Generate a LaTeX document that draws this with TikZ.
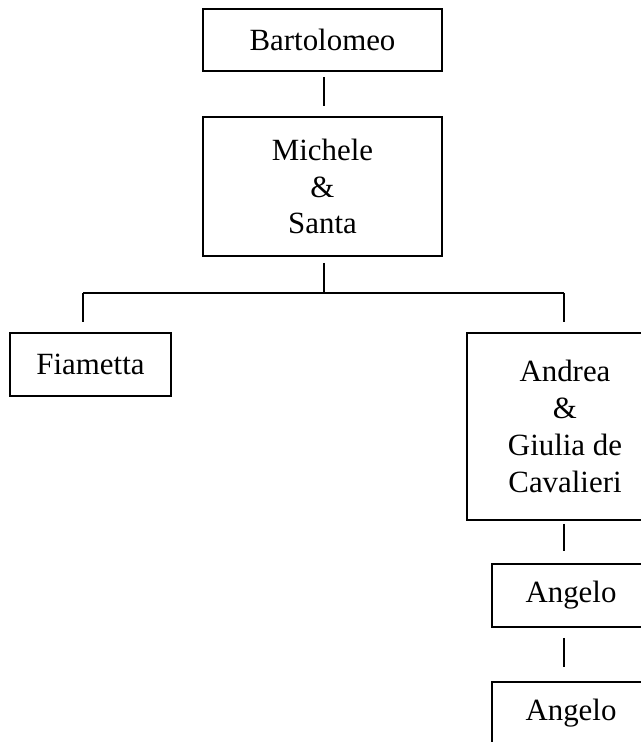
\documentclass[tikz,border=0pt]{standalone}
\usepackage{fontspec}
\setmainfont{Liberation Serif}
\begin{document}
\begin{tikzpicture}[x=1bp,y=-1bp,
  person/.style={draw=black,line width=1.5bp,inner sep=0pt,align=center,
    font=\fontsize{31}{37}\selectfont},
  link/.style={draw=black,line width=1.3bp}]
\useasboundingbox (0,0) rectangle (641,742);
\clip (0,0) rectangle (641,742);

% family members
\node[person,minimum width=239bp,minimum height=62bp]  (bart) at (322.5,40)    {Bartolomeo};
\node[person,minimum width=239bp,minimum height=139bp] (mich) at (322.5,186.5) {Michele\\\&\\Santa};
\node[person,minimum width=161bp,minimum height=63bp]  (fiam) at (90.5,364.5)  {Fiametta};
\node[person,minimum width=196bp,minimum height=187bp] (andr) at (565,426.5)   {Andrea\\\&\\Giulia de\\Cavalieri};
\node[person,minimum width=158bp,minimum height=63bp]  (ang1) at (571,595.5)   {Angelo};
\node[person,minimum width=158bp,minimum height=63bp]  (ang2) at (571,713.5)   {Angelo};

% branching points of the tree
\coordinate (split) at (324,293);
\coordinate (left)  at (83,293);
\coordinate (right) at (564,293);

% connectors
\draw[link,shorten <=5bp,shorten >=10bp] ([xshift=1.5bp]bart.south) -- ([xshift=1.5bp]mich.north);
\draw[link,shorten <=6bp] ([xshift=1.5bp]mich.south) -- (split);
\draw[link] (left) -- (right);
\draw[link,shorten >=10bp] (left) -- (left |- fiam.north);
\draw[link,shorten >=10bp] (right) -- (right |- andr.north);
\draw[link,shorten <=3bp,shorten >=12bp] (right |- andr.south) -- (right |- ang1.north);
\draw[link,shorten <=10bp,shorten >=14bp] (right |- ang1.south) -- (right |- ang2.north);
\end{tikzpicture}
\end{document}
